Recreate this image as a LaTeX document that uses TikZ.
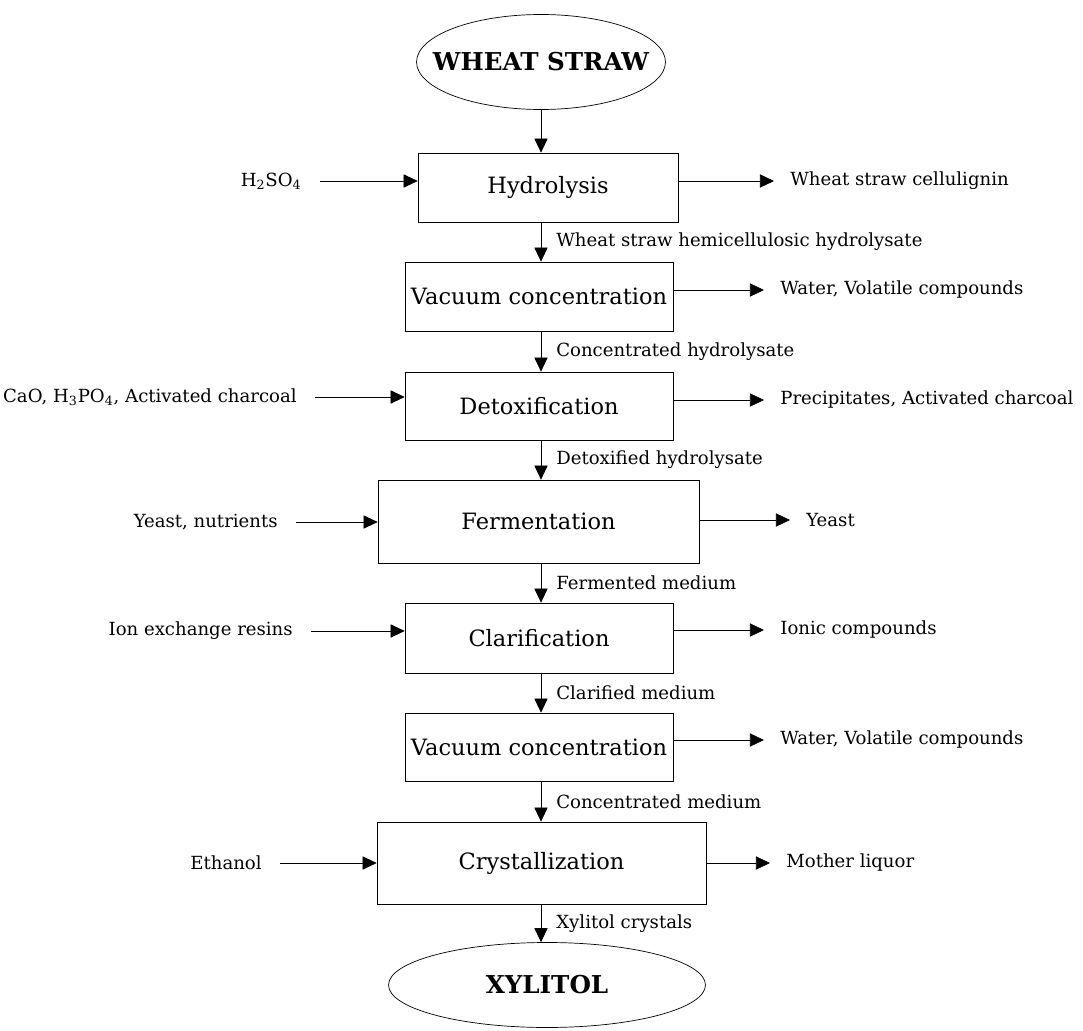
\documentclass[tikz,border=0pt]{standalone}
\usepackage{fontspec}
\setmainfont{DejaVu Serif}
\usetikzlibrary{positioning, arrows.meta, shapes.geometric}
\tikzset{
	line width = 1.4pt,
	>={Triangle[length=8pt, width=7.5pt]},
	font = \fontsize{10.3}{12}\selectfont,
	stage/.style={
		draw,
		rectangle,
		inner sep=0pt,
		font=\fontsize{12.8}{15}\selectfont
	},
	terminal/.style={
		draw,
		ellipse,
		inner sep=0pt,
		label={[font=\fontsize{14}{16}\selectfont\bfseries]center:#1}
	},
	feed/.style={anchor=east, inner sep=0pt},
	waste/.style={anchor=west, inner sep=0pt},
	stream/.style={right, inner sep=0pt, xshift=0.3cm},
	flow/.style={->},
	flow in/.style={->, shorten <=0.36cm},
	flow out/.style={->, shorten >=0.32cm}
}

\begin{document}
\begin{tikzpicture}[x=0.02cm, y=-0.02cm]
\useasboundingbox (0,0) rectangle (1083,1031);

% main line
\node[terminal=WHEAT STRAW, minimum width=4.98cm, minimum height=1.9cm] (ws) at (541,62) {};
\node[stage, minimum width=5.2cm, minimum height=1.38cm] (hyd) at (548,187.5) {Hydrolysis};
\node[stage, minimum width=5.36cm, minimum height=1.38cm] (vac1) at (539,296.5) {Vacuum concentration};
\node[stage, minimum width=5.36cm, minimum height=1.36cm] (detox) at (539,406) {Detoxification};
\node[stage, minimum width=6.42cm, minimum height=1.66cm] (ferm) at (538.5,521.5) {Fermentation};
\node[stage, minimum width=5.36cm, minimum height=1.4cm] (clar) at (539,638) {Clarification};
\node[stage, minimum width=5.36cm, minimum height=1.36cm] (vac2) at (539,747) {Vacuum concentration};
\node[stage, minimum width=6.58cm, minimum height=1.64cm] (cryst) at (541.5,863) {Crystallization};
\node[terminal=XYLITOL, minimum width=6.34cm, minimum height=1.7cm] (xyl) at (547,985) {};

\draw[flow] (ws.south) -- (hyd.north -| ws);
\draw[flow] (hyd.south -| ws) -- node[stream] {Wheat straw hemicellulosic hydrolysate} (vac1.north -| ws);
\draw[flow] (vac1.south -| ws) -- node[stream] {Concentrated\ hydrolysate} (detox.north -| ws);
\draw[flow] (detox.south -| ws) -- node[stream] {Detoxified hydrolysate} (ferm.north -| ws);
\draw[flow] (ferm.south -| ws) -- node[stream] {Fermented medium} (clar.north -| ws);
\draw[flow] (clar.south -| ws) -- node[stream] {Clarified medium} (vac2.north -| ws);
\draw[flow] (vac2.south -| ws) -- node[stream] {Concentrated medium} (cryst.north -| ws);
\draw[flow] (cryst.south -| ws) -- node[stream] {Xylitol crystals} (xyl.north -| ws);

% inputs
\node[feed] (acid) at (302,181) {H\textsubscript{2}SO\textsubscript{4}};
\node[feed] (lime) at (297,397) {CaO, H\textsubscript{3}PO\textsubscript{4}, Activated charcoal};
\node[feed] (yeast) at (278,522) {Yeast, nutrients};
\node[feed] (resin) at (293,631) {Ion exchange resins};
\node[feed] (etoh) at (262,863) {Ethanol};

\draw[flow in] (acid) -- (acid -| hyd.west);
\draw[flow in] (lime) -- (lime -| detox.west);
\draw[flow in] (yeast) -- (yeast -| ferm.west);
\draw[flow in] (resin) -- (resin -| clar.west);
\draw[flow in] (etoh) -- (etoh -| cryst.west);

% outputs
\node[waste] (lignin) at (790,181) {Wheat straw cellulignin};
\node[waste] (water1) at (780,290) {Water, Volatile compounds};
\node[waste] (precip) at (780,400) {Precipitates, Activated charcoal};
\node[waste] (cells) at (806,520) {Yeast};
\node[waste] (ionic) at (780,630) {Ionic compounds};
\node[waste] (water2) at (780,740) {Water, Volatile compounds};
\node[waste] (liquor) at (786,863) {Mother liquor};

\draw[flow out] (lignin -| hyd.east) -- (lignin);
\draw[flow out] (water1 -| vac1.east) -- (water1);
\draw[flow out] (precip -| detox.east) -- (precip);
\draw[flow out] (cells -| ferm.east) -- (cells);
\draw[flow out] (ionic -| clar.east) -- (ionic);
\draw[flow out] (water2 -| vac2.east) -- (water2);
\draw[flow out] (liquor -| cryst.east) -- (liquor);
\end{tikzpicture}
\end{document}
